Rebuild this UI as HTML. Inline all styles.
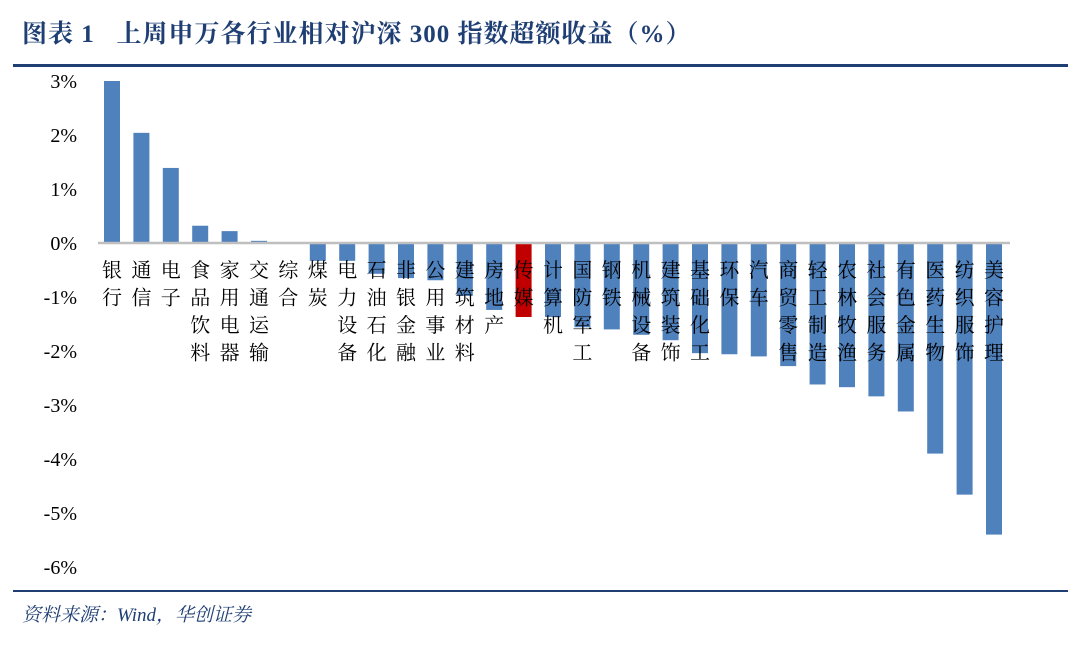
<!DOCTYPE html>
<html><head><meta charset="utf-8"><style>
body{margin:0;background:#fff;width:1080px;height:649px;overflow:hidden;font-family:"Liberation Serif","Noto Serif CJK SC",serif}
#title{position:absolute;left:22px;top:14px;font-size:25px;font-weight:bold;color:#1f3f74;letter-spacing:1px;white-space:nowrap}
.rule{position:absolute;left:13px;width:1055px;background:#1f3f74}
#src{position:absolute;left:22px;top:600px;font-size:19px;font-style:italic;color:#1f3f74}
</style></head><body>
<div id="title">图表 1&nbsp;&nbsp;&nbsp;上周申万各行业相对沪深 300 指数超额收益（%）</div>
<div class="rule" style="top:64px;height:3px"></div>
<div class="rule" style="top:590px;height:2px"></div>
<div id="src">资料来源：Wind，华创证券</div>
<svg id="chart" width="1080" height="649" style="position:absolute;left:0;top:0"></svg>
<script>
const categories=["银行","通信","电子","食品饮料","家用电器","交通运输","综合","煤炭","电力设备","石油石化","非银金融","公用事业","建筑材料","房地产","传媒","计算机","国防军工","钢铁","机械设备","建筑装饰","基础化工","环保","汽车","商贸零售","轻工制造","农林牧渔","社会服务","有色金属","医药生物","纺织服饰","美容护理"];
const values=[3.0,2.04,1.39,0.32,0.22,0.04,0.01,-0.33,-0.33,-0.57,-0.65,-0.69,-0.98,-1.24,-1.37,-1.37,-1.56,-1.6,-1.7,-1.8,-2.04,-2.06,-2.1,-2.28,-2.62,-2.67,-2.84,-3.12,-3.9,-4.66,-5.4];
const highlight=["传媒"];
const ticks=[3,2,1,0,-1,-2,-3,-4,-5,-6];
const NS="http://www.w3.org/2000/svg";
const svg=document.getElementById('chart');
const y=v=>243-v*54;
const x=i=>112+i*29.4;
function mk(t,a){const e=document.createElementNS(NS,t);for(const k in a)e.setAttribute(k,a[k]);svg.appendChild(e);return e;}
ticks.forEach(t=>{
 const e=mk('text',{x:77,y:y(t)+7,'text-anchor':'end','font-size':20,fill:'#000'});
 e.textContent=t+'%';
 
 
});
categories.forEach((c,i)=>{
 const v=values[i];
 const top=Math.min(y(v),y(0)),h=Math.abs(y(v)-y(0));
 const r=mk('rect',{x:x(i)-8,y:top,width:16,height:Math.max(h,0.5),fill:highlight.includes(c)?'#c00000':'#4f81bd'});
 
 
});
const ax=mk('line',{x1:98,x2:1010,y1:243,y2:243,stroke:'#bfbfbf','stroke-width':2.5});


categories.forEach((c,i)=>{
 const g=mk('text',{'font-size':20,fill:'#000','text-anchor':'middle'});
 
 
 [...c].forEach((ch,j)=>{const s=document.createElementNS(NS,'tspan');s.setAttribute('x',x(i));s.setAttribute('y',277+j*27.5);s.textContent=ch;g.appendChild(s);});
});
</script>
</body></html>
